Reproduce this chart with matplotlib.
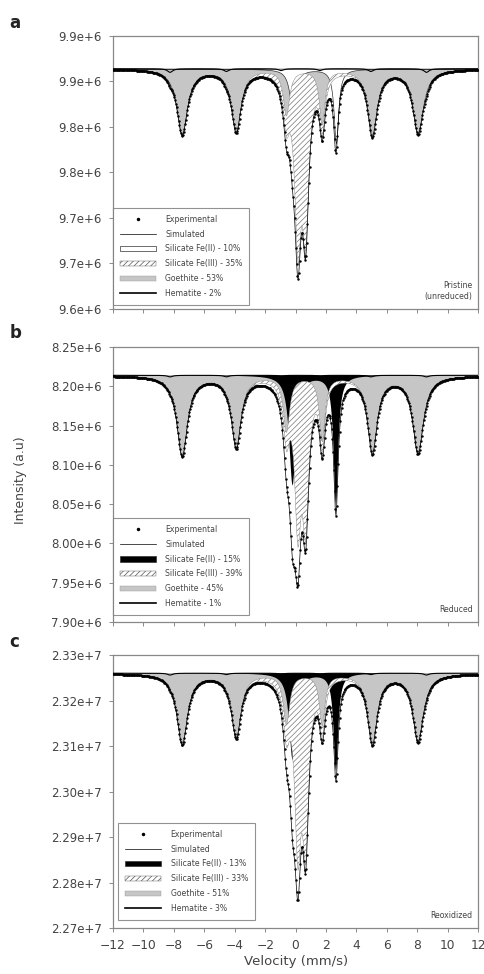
import numpy as np
import matplotlib
matplotlib.use('Agg')
import matplotlib.pyplot as plt
from matplotlib.lines import Line2D
from matplotlib.patches import Patch
from matplotlib.ticker import FuncFormatter

# velocity channels (mm/s)
VEL = np.linspace(-12, 12, 512)
X_TICKS = list(range(-12, 13, 2))

# line positions (mm/s) and half widths of each fitted site
GOE_POS = [-7.45, -3.9, -0.6, 1.75, 5.05, 8.05]
GOE_HW = [0.42, 0.38, 0.25, 0.22, 0.38, 0.42]
HEM_POS = [-8.25, -4.55, -0.95, 1.6, 4.95, 8.6]
HEM_HW = [0.2, 0.2, 0.2, 0.2, 0.2, 0.2]
FE2_POS = [-0.2, 2.65]
FE2_HW = [0.26, 0.18]
FE3_POS = [0.15, 0.66]
FE3_HW = [0.25, 0.25]

# panel a: pristine (unreduced)
A_BASE = 9.904e6
A_GOE = [0.072e6, 0.068e6, 0.050e6, 0.060e6, 0.070e6, 0.070e6]
A_HEM = [0.004e6, 0.003e6, 0.002e6, 0.002e6, 0.003e6, 0.004e6]
A_FE2 = [0.045e6, 0.082e6]
A_FE3 = [0.175e6, 0.165e6]
A_YTICKS = [9.64e6, 9.69e6, 9.74e6, 9.79e6, 9.84e6, 9.89e6, 9.94e6]
A_LABELS = ['Experimental', 'Simulated', 'Silicate Fe(II) - 10%', 'Silicate Fe(III) - 35%',
            'Goethite - 53%', 'Hematite - 2%']

# panel b: reduced
B_BASE = 8.214e6
B_GOE = [0.102e6, 0.090e6, 0.070e6, 0.082e6, 0.095e6, 0.098e6]
B_HEM = [0.002e6, 0.002e6, 0.001e6, 0.001e6, 0.002e6, 0.002e6]
B_FE2 = [0.140e6, 0.165e6]
B_FE3 = [0.175e6, 0.170e6]
B_YTICKS = [7.90e6, 7.95e6, 8.00e6, 8.05e6, 8.10e6, 8.15e6, 8.20e6, 8.25e6]
B_LABELS = ['Experimental', 'Simulated', 'Silicate Fe(II) - 15%', 'Silicate Fe(III) - 39%',
            'Goethite - 45%', 'Hematite - 1%']

# panel c: reoxidized
C_BASE = 2.3260e7
C_GOE = [0.0155e7, 0.0138e7, 0.0110e7, 0.0112e7, 0.0150e7, 0.0148e7]
C_HEM = [0.0004e7, 0.0003e7, 0.0002e7, 0.0002e7, 0.0003e7, 0.0004e7]
C_FE2 = [0.0190e7, 0.0215e7]
C_FE3 = [0.0350e7, 0.0340e7]
C_YTICKS = [2.27e7, 2.28e7, 2.29e7, 2.30e7, 2.31e7, 2.32e7, 2.33e7]
C_LABELS = ['Experimental', 'Simulated', 'Silicate Fe(II) - 13%', 'Silicate Fe(III) - 33%',
            'Goethite - 51%', 'Hematite - 3%']

TXT = '#444444'
GOE_COLOR = '#c6c6c6'
plt.rcParams['font.family'] = ['DejaVu Sans']
plt.rcParams['hatch.linewidth'] = 0.5


def absorption(x, pos, depth, hw):
    """Sum of Lorentzian absorption lines."""
    out = np.zeros_like(x)
    for p, d, w in zip(pos, depth, hw):
        out += d / (1.0 + ((x - p) / w) ** 2)
    return out


def draw_panel(ax, base, goe_d, hem_d, fe2_d, fe3_d, yticks, fmt, labels, fe2_black, note, leg_anchor):
    goe = absorption(VEL, GOE_POS, goe_d, GOE_HW)
    hem = absorption(VEL, HEM_POS, hem_d, HEM_HW)
    fe2 = absorption(VEL, FE2_POS, fe2_d, FE2_HW)
    fe3 = absorption(VEL, FE3_POS, fe3_d, FE3_HW)
    total = base - goe - hem - fe2 - fe3

    ax.fill_between(VEL, base, base - goe, facecolor=GOE_COLOR, edgecolor='none', zorder=1)
    if fe2_black:
        ax.fill_between(VEL, base, base - fe2, facecolor='black', edgecolor='none', zorder=2)
    else:
        ax.fill_between(VEL, base, base - fe2, facecolor='white', edgecolor='#333333',
                        linewidth=0.5, zorder=2)
    ax.fill_between(VEL, base - goe, base - goe - fe3, facecolor='white', edgecolor='#777777',
                    hatch='//////', linewidth=0.3, zorder=3)
    ax.plot(VEL, base - hem, color='black', lw=0.8, zorder=4)
    ax.plot(VEL, total, color='black', lw=0.5, zorder=5)
    ax.plot(VEL, total, ls='none', marker='.', ms=1.5, color='black', zorder=6)

    ax.set_xlim(-12, 12)
    ax.set_ylim(yticks[0], yticks[-1])
    ax.set_xticks(X_TICKS)
    ax.set_yticks(yticks)
    ax.yaxis.set_major_formatter(FuncFormatter(fmt))
    ax.tick_params(direction='out', length=3, width=0.6, colors='#777777',
                   labelcolor=TXT, labelsize=8.5, pad=5)
    for s in ax.spines.values():
        s.set_color('#888888')
        s.set_linewidth(0.9)

    fe2_patch = Patch(facecolor='black' if fe2_black else 'white', edgecolor='#333333', linewidth=0.5)
    handles = [Line2D([], [], ls='none', marker='.', ms=3, color='black'),
               Line2D([], [], color='black', lw=0.5),
               fe2_patch,
               Patch(facecolor='white', edgecolor='#555555', hatch='//////', linewidth=0.3),
               Patch(facecolor=GOE_COLOR, edgecolor='#999999', linewidth=0.3),
               Line2D([], [], color='black', lw=1.2)]
    leg = ax.legend(handles, labels, loc='lower left', bbox_to_anchor=leg_anchor,
                    fontsize=5.6, labelspacing=0.75, handlelength=4.6, handletextpad=1.2,
                    borderpad=0.9, frameon=True, fancybox=False, borderaxespad=0)
    leg.get_frame().set_edgecolor('#777777')
    leg.get_frame().set_linewidth(0.8)
    for t in leg.get_texts():
        t.set_color(TXT)
    leg.set_zorder(10)

    ax.text(0.985, 0.03, note, transform=ax.transAxes, ha='right', va='bottom',
            fontsize=5.6, color=TXT, linespacing=1.2)


fig = plt.figure(figsize=(4.85, 9.74), dpi=100)
ax_a = fig.add_axes([0.233, 0.6828, 0.753, 0.2803])
ax_b = fig.add_axes([0.233, 0.3614, 0.753, 0.2823])
ax_c = fig.add_axes([0.233, 0.0472, 0.753, 0.2803])

draw_panel(ax_a, A_BASE, A_GOE, A_HEM, A_FE2, A_FE3, A_YTICKS,
           lambda v, p: f'{v / 1e6:.1f}e+6', A_LABELS, False,
           'Pristine\n(unreduced)', (0.0, 0.015))
draw_panel(ax_b, B_BASE, B_GOE, B_HEM, B_FE2, B_FE3, B_YTICKS,
           lambda v, p: f'{v / 1e6:.2f}e+6', B_LABELS, True,
           'Reduced', (0.0, 0.025))
draw_panel(ax_c, C_BASE, C_GOE, C_HEM, C_FE2, C_FE3, C_YTICKS,
           lambda v, p: f'{v / 1e7:.2f}e+7', C_LABELS, True,
           'Reoxidized', (0.015, 0.03))

ax_a.tick_params(labelbottom=False)
ax_b.tick_params(labelbottom=False)
ax_c.tick_params(axis='x', labelsize=8.8)
ax_c.set_xlabel('Velocity (mm/s)', fontsize=9.5, color=TXT, labelpad=2)
fig.text(0.042, 0.507, 'Intensity (a.u)', rotation=90, ha='center', va='center',
         fontsize=9, color=TXT)

for letter, y in [('a', 0.976), ('b', 0.658), ('c', 0.341)]:
    fig.text(0.02, y, letter, fontsize=12, fontweight='bold', color='#222222', va='center')

fig.savefig('out.png', dpi=100)
